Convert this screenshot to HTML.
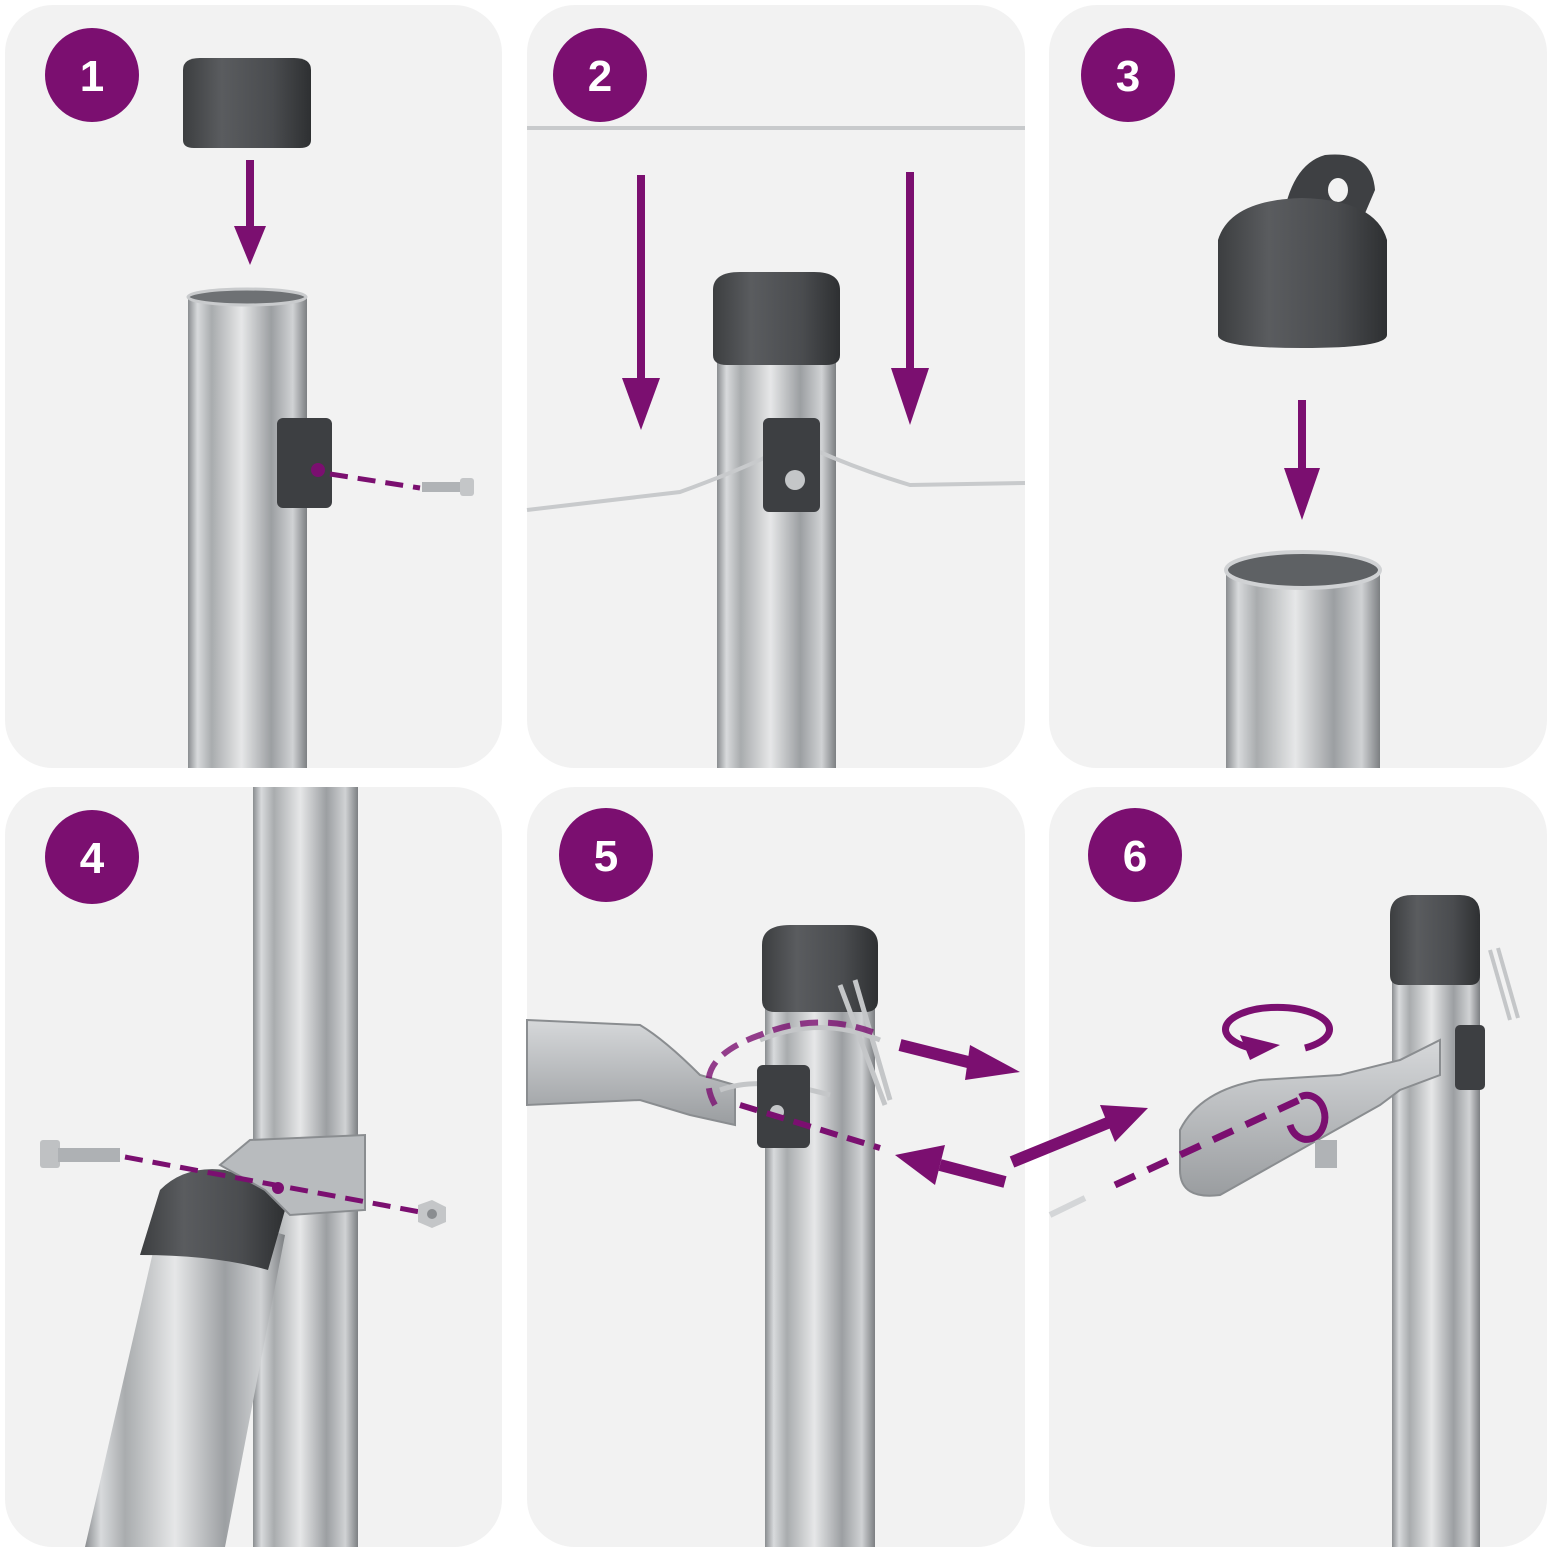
<!DOCTYPE html>
<html><head><meta charset="utf-8"><style>html,body{margin:0;padding:0;background:#fff}svg{display:block}</style></head>
<body>
<svg width="1552" height="1552" viewBox="0 0 1552 1552" xmlns="http://www.w3.org/2000/svg">
<defs>
<linearGradient id="pole" x1="0" x2="1" y1="0" y2="0">
<stop offset="0" stop-color="#8a8d90"/><stop offset="0.08" stop-color="#d8dadc"/><stop offset="0.2" stop-color="#a9acae"/><stop offset="0.45" stop-color="#e6e7e8"/><stop offset="0.7" stop-color="#9c9fa2"/><stop offset="0.88" stop-color="#d0d2d4"/><stop offset="1" stop-color="#7c7f82"/>
</linearGradient>
<linearGradient id="cap" x1="0" x2="1" y1="0" y2="0">
<stop offset="0" stop-color="#3c3e40"/><stop offset="0.3" stop-color="#5a5c5f"/><stop offset="0.7" stop-color="#4a4c4f"/><stop offset="1" stop-color="#2e3032"/>
</linearGradient>
<linearGradient id="steel" x1="0" x2="0" y1="0" y2="1">
<stop offset="0" stop-color="#d6d8da"/><stop offset="1" stop-color="#9a9da0"/>
</linearGradient>
<marker id="ah" markerWidth="4" markerHeight="4" refX="2" refY="2" orient="auto" markerUnits="strokeWidth"><path d="M0,0 L4,2 L0,4 z" fill="#7b0f70"/></marker>
</defs>
<g fill="#f2f2f2">
<rect x="5" y="5" width="497" height="763" rx="48"/>
<rect x="527" y="5" width="498" height="763" rx="48"/>
<rect x="1049" y="5" width="498" height="763" rx="48"/>
<rect x="5" y="787" width="497" height="760" rx="48"/>
<rect x="527" y="787" width="498" height="760" rx="48"/>
<rect x="1049" y="787" width="498" height="760" rx="48"/>
</g>

<!-- Panel 1 -->
<rect x="188" y="297" width="119" height="471" fill="url(#pole)"/>
<ellipse cx="247" cy="297" rx="59" ry="8" fill="#6e7174" stroke="#c9cbcd" stroke-width="3"/>
<path d="M183,70 Q183,58 200,58 L294,58 Q311,58 311,70 L311,140 Q311,148 300,148 L194,148 Q183,148 183,140Z" fill="url(#cap)"/>
<line x1="250" y1="160" x2="250" y2="232" stroke="#7b0f70" stroke-width="8"/>
<path d="M234,226 L266,226 L250,265Z" fill="#7b0f70"/>
<rect x="277" y="418" width="55" height="90" rx="6" fill="#3d3f42"/>
<circle cx="318" cy="470" r="7" fill="#7b0f70"/>
<line x1="330" y1="474" x2="420" y2="488" stroke="#7b0f70" stroke-width="5" stroke-dasharray="18,10"/>
<rect x="422" y="482" width="40" height="10" fill="#b0b3b6"/><rect x="460" y="478" width="14" height="18" rx="3" fill="#c4c6c8"/>

<!-- Panel 2 -->
<line x1="527" y1="128" x2="1025" y2="128" stroke="#c8cacc" stroke-width="4"/>
<rect x="717" y="340" width="119" height="428" fill="url(#pole)"/>
<path d="M713,290 Q713,272 740,272 L814,272 Q840,272 840,290 L840,355 Q840,365 826,365 L727,365 Q713,365 713,355Z" fill="url(#cap)"/>
<path d="M527,510 L680,492 Q740,470 770,455 M815,450 Q860,470 910,485 L1025,483" fill="none" stroke="#c8cacc" stroke-width="4"/>
<rect x="763" y="418" width="57" height="94" rx="6" fill="#3d3f42"/>
<circle cx="795" cy="480" r="10" fill="#c4c6c8"/>
<line x1="641" y1="175" x2="641" y2="385" stroke="#7b0f70" stroke-width="8"/>
<path d="M622,378 L660,378 L641,430Z" fill="#7b0f70"/>
<line x1="910" y1="172" x2="910" y2="375" stroke="#7b0f70" stroke-width="8"/>
<path d="M891,368 L929,368 L910,425Z" fill="#7b0f70"/>

<!-- Panel 3 -->
<rect x="1226" y="570" width="154" height="198" fill="url(#pole)"/>
<ellipse cx="1303" cy="570" rx="77" ry="18" fill="#5e6164" stroke="#d0d2d4" stroke-width="4"/>
<path d="M1282,225 Q1290,165 1325,155 Q1372,150 1375,190 L1360,225Z" fill="#3e4043"/>
<ellipse cx="1338" cy="190" rx="10" ry="12" fill="#f2f2f2"/>
<path d="M1218,240 Q1230,200 1302,198 Q1376,200 1387,240 L1387,335 Q1387,348 1302,348 Q1218,348 1218,335Z" fill="url(#cap)"/>
<line x1="1302" y1="400" x2="1302" y2="475" stroke="#7b0f70" stroke-width="8"/>
<path d="M1284,468 L1320,468 L1302,520Z" fill="#7b0f70"/>

<!-- Panel 4 -->
<rect x="253" y="787" width="105" height="760" fill="url(#pole)"/>
<path d="M165,1200 L285,1235 L225,1547 L85,1547Z" fill="url(#pole)"/>
<path d="M160,1190 Q185,1165 225,1170 Q270,1185 285,1210 L268,1270 Q215,1255 140,1255Z" fill="url(#cap)"/>
<path d="M220,1165 L250,1140 L365,1135 L365,1210 L290,1215 L265,1190Z" fill="#b8bbbe" stroke="#8a8d90" stroke-width="2"/>
<circle cx="278" cy="1188" r="6" fill="#7b0f70"/>
<rect x="40" y="1140" width="20" height="28" rx="3" fill="#bfc1c3"/><rect x="58" y="1148" width="62" height="14" fill="#aeb1b4"/>
<line x1="125" y1="1157" x2="420" y2="1212" stroke="#7b0f70" stroke-width="5" stroke-dasharray="18,10"/>
<polygon points="418,1205 432,1200 446,1207 446,1222 432,1228 418,1222" fill="#c4c6c8"/>
<circle cx="432" cy="1214" r="5" fill="#8a8d90"/>
<circle cx="92" cy="857" r="47" fill="#7b0f70"/>

<!-- Panel 5 -->
<rect x="765" y="990" width="110" height="557" fill="url(#pole)"/>
<path d="M762,945 Q762,925 790,925 L850,925 Q878,925 878,945 L878,1000 Q878,1012 865,1012 L775,1012 Q762,1012 762,1000Z" fill="url(#cap)"/>
<path d="M527,1020 L640,1025 Q665,1040 700,1075 L735,1085 L735,1125 L690,1115 L640,1100 L527,1105Z" fill="url(#steel)" stroke="#8a8d90" stroke-width="2"/>
<path d="M760,1040 Q820,1015 880,1040 M840,985 L885,1105 M855,980 L890,1100 M720,1090 Q760,1075 830,1095" fill="none" stroke="#c4c6c8" stroke-width="5"/>
<rect x="757" y="1065" width="53" height="83" rx="6" fill="#3d3f42"/>
<circle cx="777" cy="1112" r="7" fill="#c4c6c8"/>
<path d="M715,1105 Q690,1060 760,1035 Q820,1010 880,1035" fill="none" stroke="#7b0f70" stroke-width="6" stroke-dasharray="18,10" opacity="0.8"/>
<line x1="740" y1="1105" x2="880" y2="1148" stroke="#7b0f70" stroke-width="6" stroke-dasharray="18,10"/>
<line x1="900" y1="1045" x2="980" y2="1065" stroke="#7b0f70" stroke-width="12"/>
<path d="M970,1045 L1020,1072 L965,1080Z" fill="#7b0f70"/>
<line x1="1005" y1="1182" x2="940" y2="1165" stroke="#7b0f70" stroke-width="12"/>
<path d="M945,1145 L895,1155 L935,1185Z" fill="#7b0f70"/>
<line x1="1012" y1="1162" x2="1110" y2="1122" stroke="#7b0f70" stroke-width="12"/>
<path d="M1100,1105 L1148,1108 L1115,1142Z" fill="#7b0f70"/>
<circle cx="606" cy="855" r="47" fill="#7b0f70"/>

<!-- Panel 6 -->
<line x1="1050" y1="1215" x2="1085" y2="1198" stroke="#d4d6d8" stroke-width="6"/>
<rect x="1392" y="960" width="88" height="587" fill="url(#pole)"/>
<path d="M1390,915 Q1390,895 1412,895 L1460,895 Q1480,895 1480,915 L1480,975 Q1480,985 1470,985 L1400,985 Q1390,985 1390,975Z" fill="url(#cap)"/>
<path d="M1490,950 L1510,1020 M1498,948 L1518,1018" stroke="#c4c6c8" stroke-width="4"/>
<rect x="1455" y="1025" width="30" height="65" rx="5" fill="#3d3f42"/>
<path d="M1180,1130 Q1200,1090 1260,1080 L1340,1075 L1400,1060 L1440,1040 L1440,1075 L1400,1090 L1380,1105 L1220,1195 Q1180,1200 1180,1170Z" fill="url(#steel)" stroke="#8a8d90" stroke-width="2"/>
<rect x="1315" y="1140" width="22" height="28" fill="#b0b3b6"/>
<line x1="1115" y1="1185" x2="1310" y2="1095" stroke="#7b0f70" stroke-width="7" stroke-dasharray="22,14"/>
<path d="M1300,1097 A18,22 0 1 1 1290,1125" fill="none" stroke="#7b0f70" stroke-width="7"/>
<path d="M1250,1048 A52,22 0 1 1 1305,1048" fill="none" stroke="#7b0f70" stroke-width="7"/>
<path d="M1240,1035 L1280,1045 L1250,1060Z" fill="#7b0f70"/>
<circle cx="1135" cy="855" r="47" fill="#7b0f70"/>

<circle cx="92" cy="75" r="47" fill="#7b0f70"/>
<circle cx="600" cy="75" r="47" fill="#7b0f70"/>
<circle cx="1128" cy="75" r="47" fill="#7b0f70"/>
<g font-family="Liberation Sans, sans-serif" font-weight="bold" font-size="44" fill="#fff" text-anchor="middle">
<text x="92" y="91">1</text><text x="600" y="91">2</text><text x="1128" y="91">3</text>
<text x="92" y="873">4</text><text x="606" y="871">5</text><text x="1135" y="871">6</text>
</g>
</svg>
</body></html>
